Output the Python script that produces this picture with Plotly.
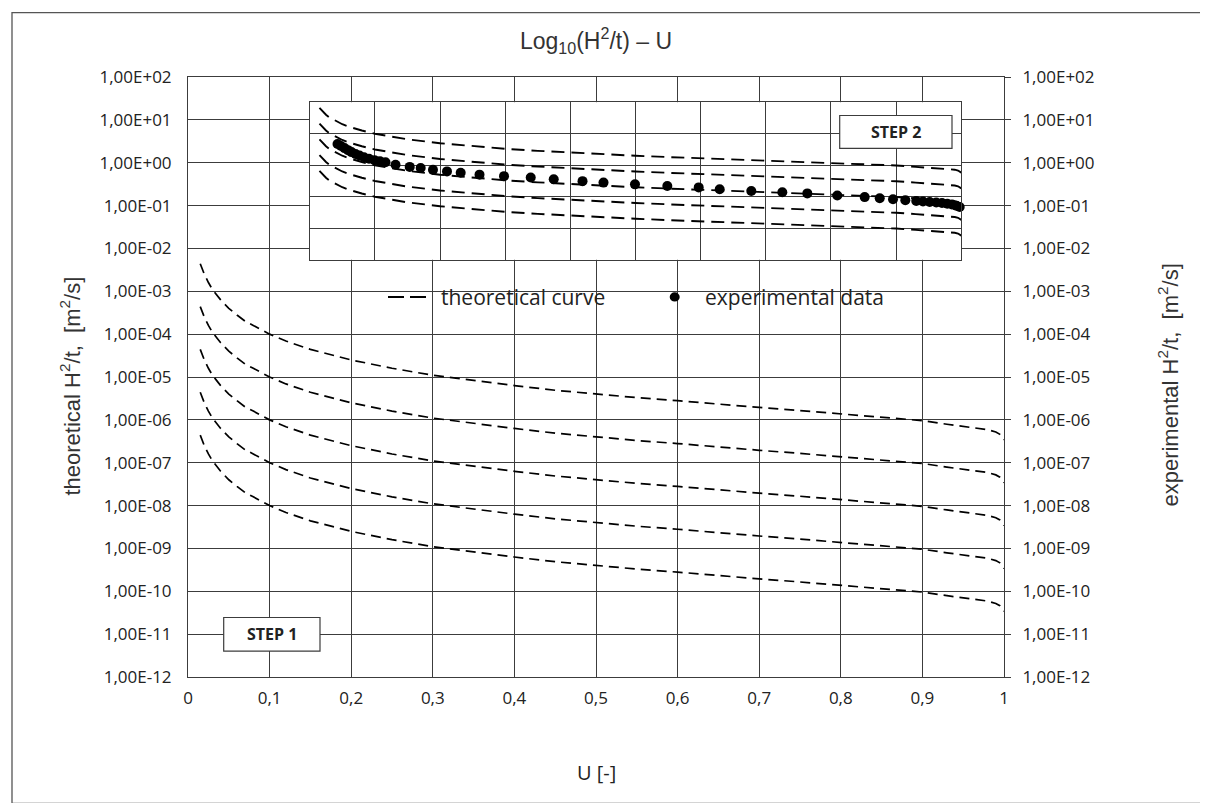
import plotly.graph_objects as go

# ---------------- data ----------------
U_theory = [0.015, 0.02, 0.025, 0.03, 0.04, 0.05, 0.06, 0.07, 0.08, 0.1, 0.12, 0.15,
            0.2, 0.25, 0.3, 0.35, 0.4, 0.45, 0.5, 0.55, 0.6, 0.65, 0.7, 0.75, 0.8,
            0.85, 0.9, 0.93, 0.95, 0.97, 0.98, 0.99, 0.995, 0.998, 1.0]

theory_1 = [4.4e-3, 2.5e-3, 1.6e-3, 1.1e-3, 6.3e-4, 4.0e-4, 2.8e-4, 2.0e-4, 1.6e-4, 1.0e-4, 6.9e-5, 4.4e-5,
            2.5e-5, 1.6e-5, 1.1e-5, 8.2e-6, 6.3e-6, 4.9e-6, 4.0e-6, 3.3e-6, 2.8e-6, 2.3e-6, 1.95e-6, 1.65e-6, 1.38e-6,
            1.15e-6, 9.6e-7, 7.9e-7, 7.0e-7, 6.3e-7, 5.9e-7, 5.2e-7, 4.6e-7, 4.0e-7, 3.4e-7]
theory_2 = [4.4e-4, 2.5e-4, 1.6e-4, 1.1e-4, 6.3e-5, 4.0e-5, 2.8e-5, 2.0e-5, 1.6e-5, 1.0e-5, 6.9e-6, 4.4e-6,
            2.5e-6, 1.6e-6, 1.1e-6, 8.2e-7, 6.3e-7, 4.9e-7, 4.0e-7, 3.3e-7, 2.8e-7, 2.3e-7, 1.95e-7, 1.65e-7, 1.38e-7,
            1.15e-7, 9.6e-8, 7.9e-8, 7.0e-8, 6.3e-8, 5.9e-8, 5.2e-8, 4.6e-8, 4.0e-8, 3.4e-8]
theory_3 = [4.4e-5, 2.5e-5, 1.6e-5, 1.1e-5, 6.3e-6, 4.0e-6, 2.8e-6, 2.0e-6, 1.6e-6, 1.0e-6, 6.9e-7, 4.4e-7,
            2.5e-7, 1.6e-7, 1.1e-7, 8.2e-8, 6.3e-8, 4.9e-8, 4.0e-8, 3.3e-8, 2.8e-8, 2.3e-8, 1.95e-8, 1.65e-8, 1.38e-8,
            1.15e-8, 9.6e-9, 7.9e-9, 7.0e-9, 6.3e-9, 5.9e-9, 5.2e-9, 4.6e-9, 4.0e-9, 3.4e-9]
theory_4 = [4.4e-6, 2.5e-6, 1.6e-6, 1.1e-6, 6.3e-7, 4.0e-7, 2.8e-7, 2.0e-7, 1.6e-7, 1.0e-7, 6.9e-8, 4.4e-8,
            2.5e-8, 1.6e-8, 1.1e-8, 8.2e-9, 6.3e-9, 4.9e-9, 4.0e-9, 3.3e-9, 2.8e-9, 2.3e-9, 1.95e-9, 1.65e-9, 1.38e-9,
            1.15e-9, 9.6e-10, 7.9e-10, 7.0e-10, 6.3e-10, 5.9e-10, 5.2e-10, 4.6e-10, 4.0e-10, 3.4e-10]
theory_5 = [4.4e-7, 2.5e-7, 1.6e-7, 1.1e-7, 6.3e-8, 4.0e-8, 2.8e-8, 2.0e-8, 1.6e-8, 1.0e-8, 6.9e-9, 4.4e-9,
            2.5e-9, 1.6e-9, 1.1e-9, 8.2e-10, 6.3e-10, 4.9e-10, 4.0e-10, 3.3e-10, 2.8e-10, 2.3e-10, 1.95e-10, 1.65e-10, 1.38e-10,
            1.15e-10, 9.6e-11, 7.9e-11, 7.0e-11, 6.3e-11, 5.9e-11, 5.2e-11, 4.6e-11, 4.0e-11, 3.4e-11]
theory_curves = [theory_1, theory_2, theory_3, theory_4, theory_5]

U_exp = [0.0427, 0.0480, 0.0534, 0.0588, 0.0641, 0.0703, 0.0764, 0.0833, 0.0910, 0.0994,
         0.1079, 0.1163, 0.1317, 0.1535, 0.1703, 0.1892, 0.2107, 0.2317, 0.2606, 0.2982,
         0.3392, 0.3745, 0.4187, 0.4509, 0.4992, 0.5488, 0.5970, 0.6292, 0.6777, 0.7253,
         0.7637, 0.8097, 0.8517, 0.8748, 0.8952, 0.9141, 0.9309, 0.9412, 0.9515, 0.9616,
         0.9704, 0.9785, 0.9857, 0.9923, 0.9975]
H2t_exp = [2.23e-5, 1.64e-5, 1.22e-5, 9.04e-6, 6.81e-6, 5.20e-6, 4.13e-6, 3.24e-6, 2.58e-6, 2.10e-6,
           1.76e-6, 1.54e-6, 1.07e-6, 7.84e-7, 6.67e-7, 5.09e-7, 4.05e-7, 3.30e-7, 2.52e-7, 2.03e-7,
           1.66e-7, 1.29e-7, 9.80e-8, 7.89e-8, 6.11e-8, 4.79e-8, 3.91e-8, 2.99e-8, 2.34e-8, 1.94e-8,
           1.63e-8, 1.19e-8, 9.48e-9, 7.94e-9, 6.95e-9, 6.07e-9, 5.30e-9, 4.95e-9, 4.63e-9, 4.33e-9,
           3.99e-9, 3.63e-9, 3.21e-9, 2.70e-9, 2.23e-9]

x_tick_vals = [0, 0.1, 0.2, 0.3, 0.4, 0.5, 0.6, 0.7, 0.8, 0.9, 1.0]
x_tick_text = ["0", "0,1", "0,2", "0,3", "0,4", "0,5", "0,6", "0,7", "0,8", "0,9", "1"]
y_tick_vals = [1e-12, 1e-11, 1e-10, 1e-9, 1e-8, 1e-7, 1e-6, 1e-5, 1e-4, 1e-3, 1e-2, 1e-1, 1e0, 1e1, 1e2]
y_tick_text = ["1,00E-12", "1,00E-11", "1,00E-10", "1,00E-09", "1,00E-08", "1,00E-07", "1,00E-06",
               "1,00E-05", "1,00E-04", "1,00E-03", "1,00E-02", "1,00E-01", "1,00E+00", "1,00E+01", "1,00E+02"]
inset_y_grid = [1e-12, 1e-10, 1e-8, 1e-6, 1e-4, 1e-2]

# ---------------- layout helpers ----------------
W, H = 1208, 803
L, R, T, B = 180, 996, 69.4, 669.5   # main plot area in px
GRID = "#3c3c3c"
TXT = "#222222"


def px(x):
    return (x - L) / (R - L)


def py(y):
    return (B - y) / (B - T)


fig = go.Figure()

# main theoretical curves
for c in theory_curves:
    fig.add_trace(go.Scatter(x=U_theory, y=c, mode="lines", xaxis="x", yaxis="y",
                             line=dict(color="black", width=1.7, dash="10px,6px"),
                             showlegend=False, hoverinfo="skip"))
# empty trace so that the right-hand (experimental) axis is activated
fig.add_trace(go.Scatter(x=[None], y=[None], mode="markers", xaxis="x", yaxis="y2",
                         showlegend=False, hoverinfo="skip"))

# inset theoretical curves
for c in theory_curves:
    fig.add_trace(go.Scatter(x=U_theory, y=c, mode="lines", xaxis="x4", yaxis="y4",
                             line=dict(color="black", width=1.9, dash="13px,7px"),
                             showlegend=False, hoverinfo="skip"))
# inset experimental data
fig.add_trace(go.Scatter(x=U_exp, y=H2t_exp, mode="markers", xaxis="x4", yaxis="y4",
                         marker=dict(color="black", size=10),
                         showlegend=False, hoverinfo="skip", cliponaxis=False))

tickfont = dict(family="Open Sans", size=17, color=TXT)

fig.update_layout(
    width=W, height=H,
    margin=dict(l=L, r=W - R, t=T, b=H - B),
    paper_bgcolor="white", plot_bgcolor="white",
    showlegend=False,
    title=dict(text="Log<sub>10</sub>(H<sup>2</sup>/t) – U", x=0.5, xref="paper",
               y=1 - 33 / H, yref="container", xanchor="center", yanchor="middle",
               font=dict(family="Liberation Sans", size=23, color="#333333")),
    xaxis=dict(range=[0, 1], tickmode="array", tickvals=x_tick_vals, ticktext=x_tick_text,
               showgrid=True, gridcolor=GRID, gridwidth=1, zeroline=False,
               showline=True, linecolor=GRID, linewidth=1, mirror=True,
               ticks="", ticklabelstandoff=6, tickfont=tickfont, domain=[0, 1]),
    yaxis=dict(type="log", range=[-12, 2], tickmode="array", tickvals=y_tick_vals, ticktext=y_tick_text,
               showgrid=True, gridcolor=GRID, gridwidth=1, zeroline=False,
               showline=True, linecolor=GRID, linewidth=1,
               ticks="", ticklabelstandoff=12, tickfont=tickfont, domain=[0, 1]),
    yaxis2=dict(type="log", range=[-12, 2], tickmode="array", tickvals=y_tick_vals, ticktext=y_tick_text,
                overlaying="y", side="right", anchor="x", showgrid=False, zeroline=False,
                showline=True, linecolor=GRID, linewidth=1, showticklabels=True,
                ticks="outside", ticklen=6, tickcolor=GRID, tickwidth=1,
                ticklabelstandoff=8, tickfont=tickfont),
    # inset outer box (blank subplot with its own white background)
    xaxis3=dict(domain=[px(282), px(973)], anchor="y3", range=[0, 1], showgrid=False, zeroline=False,
                showticklabels=False, ticks="", showline=True, linecolor=GRID, linewidth=1.3, mirror=True),
    yaxis3=dict(domain=[py(319), py(76.7)], anchor="x3", range=[0, 1], showgrid=False, zeroline=False,
                showticklabels=False, ticks="", showline=True, linecolor=GRID, linewidth=1.3, mirror=True),
    # inset plot
    xaxis4=dict(domain=[px(301.7), px(953.3)], anchor="y4", range=[0, 1], tickmode="array",
                tickvals=x_tick_vals, showgrid=True, gridcolor=GRID, gridwidth=1, zeroline=False,
                showticklabels=False, ticks="", showline=True, linecolor=GRID, linewidth=1, mirror=True),
    yaxis4=dict(domain=[py(252.2), py(94.6)], anchor="x4", type="log", range=[-12, -2], tickmode="array",
                tickvals=inset_y_grid, showgrid=True, gridcolor=GRID, gridwidth=1, zeroline=False,
                showticklabels=False, ticks="", showline=True, linecolor=GRID, linewidth=1, mirror=True),
)

shapes = []
# outer chart border
shapes.append(dict(type="rect", xref="paper", yref="paper", x0=px(4), x1=px(1203), y0=py(796), y1=py(5),
                   line=dict(color="#555555", width=1.3), fillcolor="rgba(0,0,0,0)", layer="above"))
# STEP 1 box
shapes.append(dict(type="rect", xref="paper", yref="paper", x0=px(215.7), x1=px(312), y0=py(643.6), y1=py(610),
                   line=dict(color=GRID, width=1.2), fillcolor="white", layer="above"))
# STEP 2 box
shapes.append(dict(type="rect", xref="paper", yref="paper", x0=px(831.7), x1=px(944), y0=py(140.8), y1=py(107.9),
                   line=dict(color=GRID, width=1.2), fillcolor="white", layer="above"))
# legend samples
shapes.append(dict(type="line", xref="paper", yref="paper", x0=px(380), x1=px(418), y0=py(289.4), y1=py(289.4),
                   line=dict(color="black", width=2, dash="16px,6px"), layer="above"))
shapes.append(dict(type="circle", xref="paper", yref="paper", x0=px(661.7), x1=px(671.7), y0=py(294), y1=py(284.8),
                   line=dict(color="black", width=0), fillcolor="black", layer="above"))
fig.update_layout(shapes=shapes)

ann = []
ann.append(dict(text="<b>STEP 1</b>", xref="paper", yref="paper", x=px(264), y=py(626.8), showarrow=False,
                xanchor="center", yanchor="middle", font=dict(family="Open Sans", size=16, color=TXT)))
ann.append(dict(text="<b>STEP 2</b>", xref="paper", yref="paper", x=px(888), y=py(124.4), showarrow=False,
                xanchor="center", yanchor="middle", font=dict(family="Open Sans", size=16, color=TXT)))
ann.append(dict(text="theoretical curve", xref="paper", yref="paper", x=px(431), y=py(289.4), showarrow=False,
                xanchor="left", yanchor="middle", font=dict(family="Open Sans", size=21, color=TXT)))
ann.append(dict(text="experimental data", xref="paper", yref="paper", x=px(695), y=py(289.4), showarrow=False,
                xanchor="left", yanchor="middle", font=dict(family="Open Sans", size=21, color=TXT)))
ann.append(dict(text="theoretical H<sup>2</sup>/t,  [m<sup>2</sup>/s]", xref="paper", yref="paper",
                x=px(62), y=py(378), textangle=-90, showarrow=False, xanchor="center", yanchor="middle",
                font=dict(family="Liberation Sans", size=22, color="#333333")))
ann.append(dict(text="experimental H<sup>2</sup>/t,  [m<sup>2</sup>/s]", xref="paper", yref="paper",
                x=px(1160), y=py(378), textangle=-90, showarrow=False, xanchor="center", yanchor="middle",
                font=dict(family="Liberation Sans", size=22, color="#333333")))
ann.append(dict(text="U [-]", xref="paper", yref="paper", x=0.5, y=py(765), showarrow=False,
                xanchor="center", yanchor="middle", font=dict(family="Open Sans", size=20, color=TXT)))
fig.update_layout(annotations=ann)

fig.write_html("out.html")
